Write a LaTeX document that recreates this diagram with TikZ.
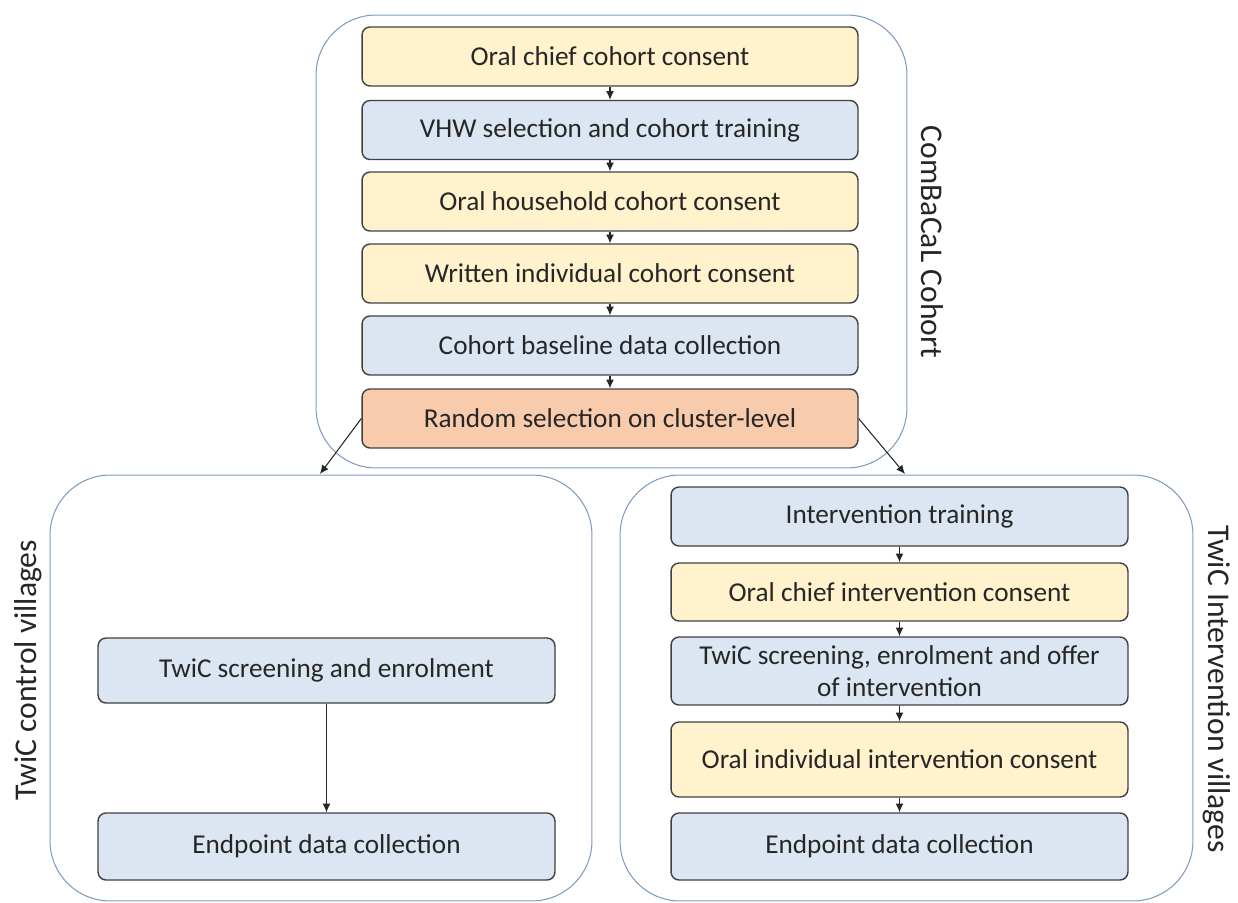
\documentclass[tikz,border=0pt]{standalone}
\usepackage{fontspec}
\setmainfont{Carlito}
\usetikzlibrary{arrows.meta}
\definecolor{consent}{HTML}{FFF2CC}
\definecolor{task}{HTML}{DCE6F2}
\definecolor{draw}{HTML}{F8CBAD}
\definecolor{frame}{HTML}{7F9CC0}
\definecolor{edge}{HTML}{404040}

\begin{document}
\begin{tikzpicture}[x=0.02cm, y=-0.02cm,
  group/.style={draw=frame, line width=0.6pt, rounded corners=1.2cm, inner sep=0pt},
  box/.style={draw=edge, line width=0.8pt, rounded corners=0.16cm, align=center,
    inner sep=2pt, text=black!85, font=\fontsize{15.5}{18.5}\selectfont},
  topbox/.style={box, minimum width=9.92cm, minimum height=1.18cm},
  lowbox/.style={box, minimum width=9.14cm, minimum height=1.18cm},
  side/.style={text=black!85, font=\fontsize{18}{21}\selectfont},
  flow/.style={-{Latex[length=5pt,width=4.5pt]}, line width=0.6pt, black!85}]

\useasboundingbox (0,0) rectangle (1238,903);

\node[group, minimum width=11.82cm, minimum height=9.06cm] (cohort) at (611.5, 241.5) {};
\node[group, minimum width=10.84cm, minimum height=8.52cm] (control) at (321, 688) {};
\node[group, minimum width=11.46cm, minimum height=8.52cm] (interv) at (906.5, 688) {};

\node[side, rotate=-90] (cohortlbl) at (932, 242) {ComBaCaL Cohort};
\node[side, rotate=90] (controllbl) at (28, 670) {TwiC control villages};
\node[side, rotate=-90] (intervlbl) at (1217, 689) {TwiC Intervention villages};

\node[topbox, fill=consent] (chief) at (610, 56.5) {Oral chief cohort consent};
\node[topbox, fill=task] (vhw) at (610, 130) {VHW selection and cohort training};
\node[topbox, fill=consent] (house) at (610, 201.5) {Oral household cohort consent};
\node[topbox, fill=consent] (written) at (610, 273.5) {Written individual cohort consent};
\node[topbox, fill=task] (base) at (610, 345.5) {Cohort baseline data collection};
\node[topbox, fill=draw] (random) at (610, 418.5) {Random selection on cluster-level};

\node[lowbox, fill=task, minimum height=1.3cm] (cscreen) at (326.5, 670.5) {TwiC screening and enrolment};
\node[lowbox, fill=task, minimum height=1.34cm] (cend) at (326.5, 846.5) {Endpoint data collection};

\node[lowbox, fill=task] (train) at (899.5, 516.5) {Intervention training};
\node[lowbox, fill=consent, minimum height=1.16cm] (ichief) at (899.5, 592) {Oral chief intervention consent};
\node[lowbox, fill=task, minimum height=1.36cm] (offer) at (899.5, 671) {TwiC screening, enrolment and offer\\of intervention};
\node[lowbox, fill=consent, minimum height=1.5cm] (indiv) at (899.5, 759.5) {Oral individual intervention consent};
\node[lowbox, fill=task, minimum height=1.34cm] (iend) at (899.5, 846.5) {Endpoint data collection};

\coordinate (tocontrol) at (320, 474);
\coordinate (tointerv) at (905, 474);

\draw[flow] (chief) -- (vhw);
\draw[flow] (vhw) -- (house);
\draw[flow] (house) -- (written);
\draw[flow] (written) -- (base);
\draw[flow] (base) -- (random);
\draw[flow] (random.west) -- (tocontrol);
\draw[flow] (random.east) -- (tointerv);

\draw[flow] (cscreen) -- (cend);

\draw[flow] (train) -- (ichief);
\draw[flow] (ichief) -- (offer);
\draw[flow] (offer) -- (indiv);
\draw[flow] (indiv) -- (iend);

\end{tikzpicture}
\end{document}
